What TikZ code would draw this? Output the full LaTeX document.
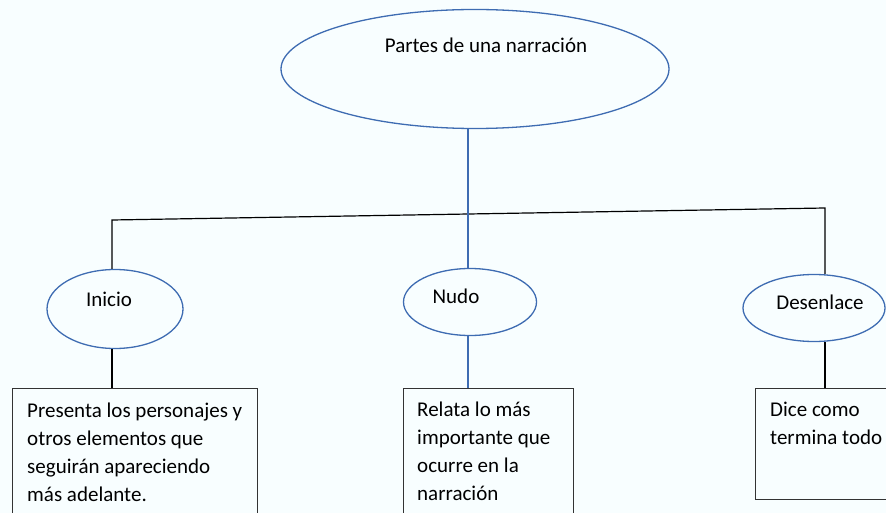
\documentclass[tikz,border=0pt]{standalone}
\usepackage{fontspec}
\setmainfont{Carlito}
\usepackage{tikz}
\usetikzlibrary{shapes}

\definecolor{ovalblue}{HTML}{3E6CB2}
\definecolor{paper}{HTML}{F8FEFF}

\begin{document}
\begin{tikzpicture}[x=1pt, y=-1pt,
        oval/.style = {shape=ellipse, draw=ovalblue, line width=1.3pt, inner sep=0pt},
        box/.style = {shape=rectangle, draw=black!80, line width=1.3pt,
        anchor=north west, inner sep=0pt},
        txt/.style = {font=\fontsize{21}{28}\selectfont, inner sep=0pt},
        note/.style = {txt, align=left, anchor=base west},
        link/.style = {draw=black, line width=1.2pt},
        bluelink/.style = {draw=ovalblue, line width=1.3pt}]
        \fill[paper] (0,0) rectangle (886,513);
        \useasboundingbox (0,0) rectangle (886,513);
        \clip (0,0) rectangle (886,513);

        % top
        \node[oval, minimum width=388, minimum height=119] (partes) at (475,69) {};
        \node[txt, anchor=base] (partes-txt) at (486,53) {Partes de una narración};

        % middle row
        \node[oval, minimum width=136, minimum height=79] (inicio) at (115,309) {};
        \node[txt, anchor=base] (inicio-txt) at (109,306) {Inicio};
        \node[oval, minimum width=133, minimum height=67] (nudo) at (470,302) {};
        \node[txt, anchor=base] (nudo-txt) at (456,303) {Nudo};
        \node[oval, minimum width=142, minimum height=67] (desenlace) at (814,308) {};
        \node[txt, anchor=base] (desenlace-txt) at (820,309) {Desenlace};

        % boxes (text anchored at the baseline of its last line)
        \node[box, minimum width=245, minimum height=160] (inicio-box) at (12,388) {};
        \node[note] (inicio-note) at (27,501)
            {Presenta los personajes y\\otros elementos que\\seguirán apareciendo\\más adelante.};
        \node[box, minimum width=170, minimum height=160] (nudo-box) at (403,388) {};
        \node[note] (nudo-note) at (417,500)
            {Relata lo más\\importante que\\ocurre en la\\narración};
        \node[box, minimum width=160, minimum height=111] (desenlace-box) at (755,388) {};
        \node[note] (desenlace-note) at (770,444)
            {Dice como\\termina todo};

        % connectors
        \coordinate (lcorner) at (112,220);
        \coordinate (rcorner) at (825,208);
        \coordinate (joint) at (468,214);
        \draw[link] (lcorner |- inicio.north) -- (lcorner) -- (rcorner) -- (rcorner |- desenlace.north);
        \draw[bluelink] (partes.south -| joint) -- (joint) -- (joint |- nudo.north);
        \draw[link] (inicio.south -| lcorner) -- (lcorner |- inicio-box.north);
        \draw[bluelink] (nudo.south -| joint) -- (joint |- nudo-box.north);
        \draw[link] (desenlace.south -| rcorner) -- (rcorner |- desenlace-box.north);
\end{tikzpicture}
\end{document}
